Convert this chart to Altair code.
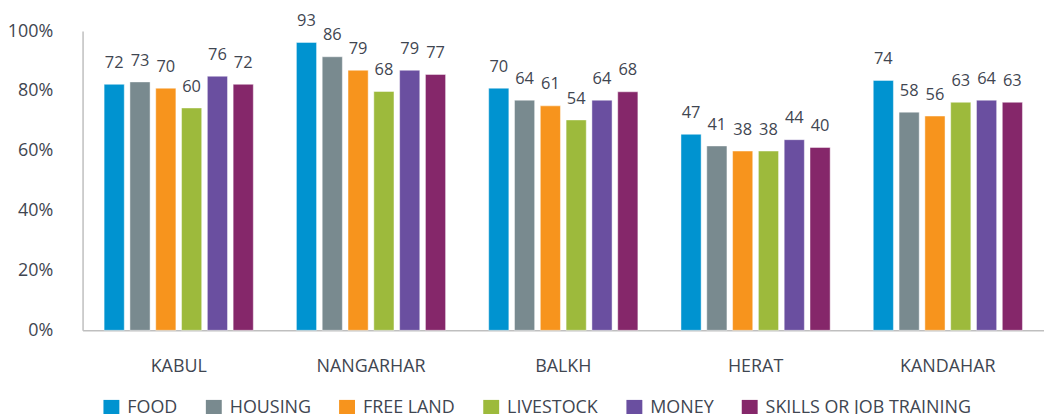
import altair as alt
import pandas as pd

provinces = ["KABUL", "NANGARHAR", "BALKH", "HERAT", "KANDAHAR"]
categories = ["FOOD", "HOUSING", "FREE LAND", "LIVESTOCK", "MONEY", "SKILLS OR JOB TRAINING"]
colors = ["#0093D0", "#798A8F", "#F7941D", "#9DBA3C", "#6A4FA0", "#85276A"]

# bar heights as read against the axis (%)
food_bar = [82.2, 96.2, 80.9, 65.5, 83.5]
housing_bar = [83.0, 91.4, 76.9, 61.6, 72.9]
freeland_bar = [80.9, 86.9, 75.0, 59.9, 71.6]
livestock_bar = [74.3, 79.8, 70.3, 59.9, 76.2]
money_bar = [84.9, 86.9, 76.9, 63.7, 76.9]
skills_bar = [82.2, 85.5, 79.7, 61.1, 76.2]

# data labels printed above the bars
food_lbl = [72, 93, 70, 47, 74]
housing_lbl = [73, 86, 64, 41, 58]
freeland_lbl = [70, 79, 61, 38, 56]
livestock_lbl = [60, 68, 54, 38, 63]
money_lbl = [76, 79, 64, 44, 64]
skills_lbl = [72, 77, 68, 40, 63]

bars = [food_bar, housing_bar, freeland_bar, livestock_bar, money_bar, skills_bar]
lbls = [food_lbl, housing_lbl, freeland_lbl, livestock_lbl, money_lbl, skills_lbl]

rows = []
for cat, bv, lv in zip(categories, bars, lbls):
    for p, b, l in zip(provinces, bv, lv):
        rows.append({"province": p, "category": cat, "value": b / 100.0, "label": str(l)})
df = pd.DataFrame(rows)

TXT = "#3F4651"
FONT = "Open Sans"

x_enc = alt.X("province:N", sort=provinces, title=None,
              scale=alt.Scale(paddingInner=0, paddingOuter=0),
              axis=alt.Axis(labelAngle=0, labelFontSize=18, labelFont=FONT, labelColor=TXT,
                            labelPadding=27, ticks=False, domainColor="#BFBFBF", domainWidth=1.5))
xo_enc = alt.XOffset("category:N", sort=categories,
                     scale=alt.Scale(paddingInner=0.219, paddingOuter=0.835))
y_enc = alt.Y("value:Q", title=None,
              scale=alt.Scale(domain=[0, 1], nice=False),
              axis=alt.Axis(values=[0, 0.2, 0.4, 0.6, 0.8, 1.0], format=".0%", grid=False,
                            ticks=False, labelFontSize=18, labelFont=FONT, labelColor=TXT,
                            labelPadding=30, domainColor="#BFBFBF", domainWidth=1.5))

bar = alt.Chart(df).mark_bar(stroke="#ffffff", strokeOpacity=0.45, strokeWidth=1).encode(
    x=x_enc,
    xOffset=xo_enc,
    y=y_enc,
    color=alt.Color("category:N", sort=categories,
                    scale=alt.Scale(domain=categories, range=colors),
                    legend=alt.Legend(orient="none", legendX=20, legendY=370,
                                      direction="horizontal", columns=6, title=None,
                                      symbolType="square", symbolSize=256, symbolStrokeWidth=0,
                                      symbolOpacity=1, labelFontSize=18, labelFont=FONT,
                                      labelColor=TXT, labelOffset=7, columnPadding=27,
                                      labelLimit=400)),
)

text = alt.Chart(df).mark_text(baseline="alphabetic", align="center", dy=-16.5,
                               fontSize=16.5, font=FONT, color=TXT).encode(
    x=alt.X("province:N", sort=provinces),
    xOffset=alt.XOffset("category:N", sort=categories),
    y=alt.Y("value:Q"),
    text="label:N",
)

chart = alt.layer(bar, text).properties(
    width=967, height=301,
    autosize=alt.AutoSizeParams(type="none"),
    padding={"left": 75, "top": 22, "right": 0, "bottom": 83},
).configure_view(stroke=None)

chart.save("out.html", embed_options={"renderer": "svg", "actions": False})
